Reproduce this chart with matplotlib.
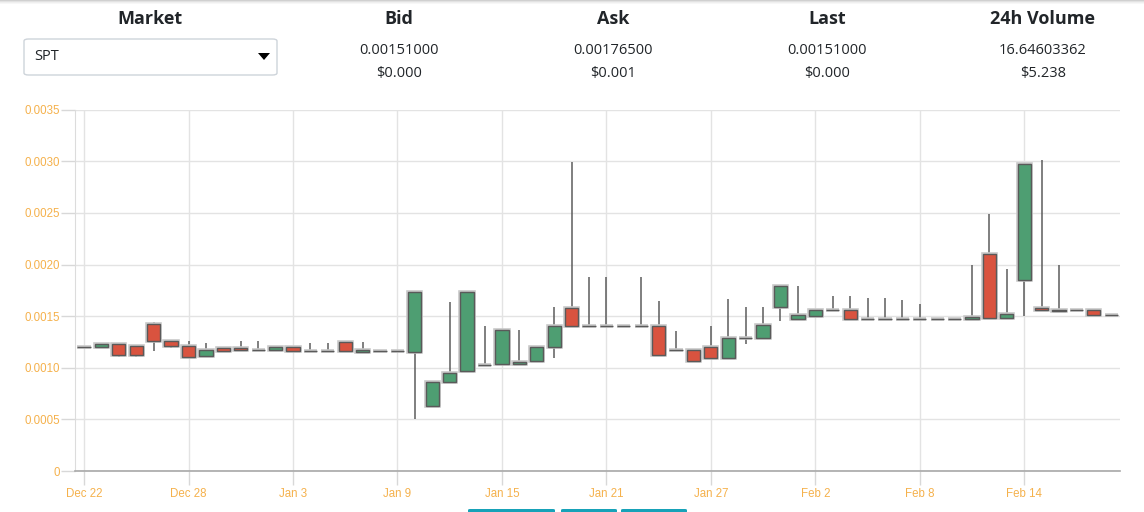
import matplotlib
matplotlib.use("Agg")
import matplotlib.pyplot as plt
import matplotlib.dates as mdates
from matplotlib.patches import FancyBboxPatch, Rectangle, Polygon
import numpy as np
import pandas as pd

# ---------------- data ----------------
start_date = "2017-12-22"
n_days = 60
opens = [0.00120, 0.00120, 0.00123, 0.00121, 0.00142, 0.00126, 0.00121, 0.00111, 0.00119, 0.00119,
         0.00117, 0.00117, 0.00120, 0.00116, 0.00116, 0.00125, 0.00115, 0.00116, 0.00116, 0.00115,
         0.00063, 0.00086, 0.00097, 0.00103, 0.00104, 0.00104, 0.00107, 0.00120, 0.00158, 0.00140,
         0.00140, 0.00140, 0.00140, 0.00140, 0.00117, 0.00117, 0.00120, 0.00109, 0.00129, 0.00129,
         0.00159, 0.00147, 0.00150, 0.00156, 0.00156, 0.00147, 0.00147, 0.00147, 0.00147, 0.00147,
         0.00147, 0.00147, 0.00210, 0.00148, 0.00185, 0.00158, 0.00156, 0.00156, 0.00156, 0.00151]
highs = [0.00120, 0.00123, 0.00123, 0.00121, 0.00144, 0.00126, 0.00126, 0.00124, 0.00120, 0.00126,
         0.00126, 0.00120, 0.00120, 0.00124, 0.00124, 0.00125, 0.00125, 0.00116, 0.00116, 0.00173,
         0.00086, 0.00164, 0.00173, 0.00140, 0.00137, 0.00137, 0.00120, 0.00159, 0.00299, 0.00188,
         0.00188, 0.00140, 0.00188, 0.00165, 0.00136, 0.00117, 0.00140, 0.00167, 0.00159, 0.00159,
         0.00180, 0.00179, 0.00156, 0.00170, 0.00170, 0.00168, 0.00168, 0.00166, 0.00162, 0.00147,
         0.00147, 0.00200, 0.00249, 0.00196, 0.00298, 0.00301, 0.00200, 0.00156, 0.00156, 0.00151]
lows = [0.00120, 0.00120, 0.00110, 0.00110, 0.00116, 0.00119, 0.00110, 0.00110, 0.00115, 0.00116,
        0.00117, 0.00116, 0.00116, 0.00116, 0.00116, 0.00115, 0.00115, 0.00116, 0.00116, 0.00050,
        0.00063, 0.00086, 0.00097, 0.00103, 0.00104, 0.00104, 0.00107, 0.00109, 0.00140, 0.00140,
        0.00140, 0.00140, 0.00140, 0.00111, 0.00117, 0.00107, 0.00109, 0.00109, 0.00123, 0.00129,
        0.00145, 0.00147, 0.00149, 0.00156, 0.00147, 0.00147, 0.00147, 0.00147, 0.00147, 0.00147,
        0.00146, 0.00147, 0.00147, 0.00148, 0.00150, 0.00156, 0.00155, 0.00156, 0.00150, 0.00151]
closes = [0.00120, 0.00123, 0.00112, 0.00112, 0.00126, 0.00121, 0.00110, 0.00117, 0.00116, 0.00117,
          0.00117, 0.00120, 0.00116, 0.00116, 0.00116, 0.00116, 0.00117, 0.00116, 0.00116, 0.00173,
          0.00086, 0.00095, 0.00173, 0.00103, 0.00137, 0.00106, 0.00120, 0.00140, 0.00140, 0.00140,
          0.00140, 0.00140, 0.00140, 0.00112, 0.00117, 0.00107, 0.00109, 0.00129, 0.00129, 0.00141,
          0.00179, 0.00151, 0.00156, 0.00156, 0.00147, 0.00147, 0.00147, 0.00147, 0.00147, 0.00147,
          0.00147, 0.00149, 0.00148, 0.00152, 0.00297, 0.00156, 0.00155, 0.00156, 0.00151, 0.00151]

y_ticks = [0, 0.0005, 0.0010, 0.0015, 0.0020, 0.0025, 0.0030, 0.0035]
y_tick_labels = ["0", "0.0005", "0.0010", "0.0015", "0.0020", "0.0025", "0.0030", "0.0035"]
x_tick_dates = ["2017-12-22", "2017-12-28", "2018-01-03", "2018-01-09", "2018-01-15",
                "2018-01-21", "2018-01-27", "2018-02-02", "2018-02-08", "2018-02-14"]
x_tick_labels = ["Dec 22", "Dec 28", "Jan 3", "Jan 9", "Jan 15", "Jan 21", "Jan 27",
                 "Feb 2", "Feb 8", "Feb 14"]

header_titles = ["Market", "Bid", "Ask", "Last", "24h Volume"]
header_values = ["0.00151000", "0.00176500", "0.00151000", "16.64603362"]
header_usd = ["$0.000", "$0.001", "$0.000", "$5.238"]
market_name = "SPT"

# ---------------- figure ----------------
W, H = 1144, 512
fig = plt.figure(figsize=(W / 100, H / 100), dpi=100)
fig.patch.set_facecolor("white")

def fx(px):
    return px / W

def fy(py):
    return 1 - py / H

# top shadow
for i, c in enumerate(["#d0d0d0", "#e2e2e2", "#efefef", "#f7f7f7"]):
    fig.patches.append(Rectangle((0, fy(i + 1)), 1, 1 / H, transform=fig.transFigure,
                                 facecolor=c, edgecolor="none", zorder=0))

hfont = "Open Sans"
txt_col = "#212529"
# Market column
fig.text(fx(150), fy(19.5), header_titles[0], ha="center", va="center",
         fontsize=13, fontweight="bold", family=hfont, color=txt_col)
box = FancyBboxPatch((fx(24), fy(75)), fx(253), 36 / H,
                     boxstyle="round,pad=0,rounding_size=0.004",
                     transform=fig.transFigure, facecolor="white",
                     edgecolor="#ced4da", linewidth=1)
fig.patches.append(box)
fig.text(fx(34), fy(57), market_name, ha="left", va="center", fontsize=10.5,
         family=hfont, color=txt_col)
tri = Polygon([(fx(258), fy(53)), (fx(270), fy(53)), (fx(264), fy(60))], closed=True,
              transform=fig.transFigure, facecolor="black", edgecolor="none")
fig.patches.append(tri)

col_x = [399, 613, 827, 1043]
for i, cx in enumerate(col_x):
    fig.text(fx(cx), fy(19.5), header_titles[i + 1], ha="center", va="center",
             fontsize=13, fontweight="bold", family=hfont, color=txt_col)
    fig.text(fx(cx), fy(50.5), header_values[i], ha="center", va="center",
             fontsize=10.5, family=hfont, color=txt_col)
    fig.text(fx(cx), fy(74), header_usd[i], ha="center", va="center",
             fontsize=10.5, family=hfont, color=txt_col)

# bottom buttons (partially visible)
for x0, x1 in [(468, 555), (561, 617), (621, 687)]:
    fig.patches.append(FancyBboxPatch((fx(x0), fy(514)), fx(x1 - x0), 5 / H,
                                      boxstyle="round,pad=0,rounding_size=0.002",
                                      transform=fig.transFigure, facecolor="#17a2b8",
                                      edgecolor="none"))

# ---------------- chart ----------------
ax = fig.add_axes([fx(75), 41 / H, fx(1120 - 75), (471 - 109.7) / H])
ax.set_facecolor("none")

dates = pd.date_range(start_date, periods=n_days)
xd = mdates.date2num(dates.to_pydatetime())
o = np.array(opens); h = np.array(highs); l = np.array(lows); c = np.array(closes)

up = c > o
colors = np.where(up, "#4e9e72", "#d9533f")
body_bottom = np.minimum(o, c)
body_h = np.abs(c - o)

ax.vlines(xd, l, h, color="#5c5c5c", linewidth=1.1, zorder=3)
bw = 0.76
# light halo
ax.bar(xd, body_h, bottom=body_bottom, width=bw, color="none",
       edgecolor="#c8c8c8", linewidth=2.6, zorder=4)
ax.bar(xd, body_h, bottom=body_bottom, width=bw, color=colors,
       edgecolor="#5a5a5a", linewidth=1.0, zorder=5)

ax.set_ylim(0, 0.0035)
ax.set_xlim(xd[0] - 0.52, xd[-1] + 0.5)

ax.set_yticks(y_ticks)
ax.set_yticklabels(y_tick_labels)
xt = mdates.date2num(pd.to_datetime(x_tick_dates).to_pydatetime())
ax.set_xticks(xt)
ax.set_xticklabels(x_tick_labels)

tick_col = "#f5b14c"
ax.tick_params(axis="y", length=10, width=1, color="#d8d8d8", labelcolor=tick_col,
               labelsize=8.3, pad=1)
ax.tick_params(axis="x", length=10, width=1, color="#d8d8d8", labelcolor=tick_col,
               labelsize=8.3, pad=2)
for lab in ax.get_xticklabels() + ax.get_yticklabels():
    lab.set_family("Liberation Sans")

ax.grid(True, color="#e3e3e3", linewidth=1, zorder=0)
ax.set_axisbelow(True)
for s in ["top", "right"]:
    ax.spines[s].set_visible(False)
ax.spines["left"].set_color("#dcdcdc")
ax.spines["bottom"].set_color("#a8a8a8")
ax.spines["bottom"].set_linewidth(1.2)

fig.savefig("out.png", dpi=100, facecolor="white")
